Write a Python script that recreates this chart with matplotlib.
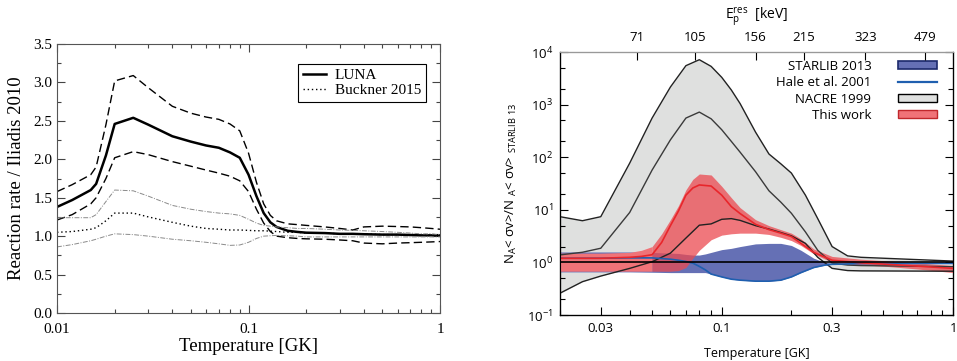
import matplotlib
matplotlib.use("Agg")
import matplotlib.pyplot as plt
from matplotlib.lines import Line2D
from matplotlib.patches import Patch
from matplotlib.ticker import FixedLocator, NullLocator

# ---- left panel: rate ratio to Iliadis 2010 ----
temp_left = [0.01, 0.012, 0.015, 0.016, 0.018, 0.02, 0.025, 0.03, 0.04, 0.05, 0.06,
             0.07, 0.08, 0.09, 0.1, 0.11, 0.12, 0.13, 0.14, 0.16, 0.18, 0.2, 0.25,
             0.3, 0.35, 0.4, 0.5, 0.6, 0.7, 0.8, 0.9, 1.0]
luna = [1.38, 1.47, 1.60, 1.68, 2.05, 2.46, 2.54, 2.45, 2.30, 2.23, 2.18,
        2.15, 2.09, 2.02, 1.80, 1.52, 1.30, 1.18, 1.12, 1.07, 1.055, 1.045, 1.04,
        1.03, 1.03, 1.025, 1.02, 1.02, 1.015, 1.01, 1.01, 1.01]
luna_hi = [1.58, 1.67, 1.80, 1.90, 2.45, 3.02, 3.09, 2.93, 2.69, 2.60, 2.55,
           2.52, 2.46, 2.37, 2.08, 1.70, 1.42, 1.27, 1.20, 1.16, 1.15, 1.14, 1.12,
           1.10, 1.08, 1.12, 1.13, 1.125, 1.12, 1.11, 1.10, 1.09]
luna_lo = [1.21, 1.28, 1.42, 1.50, 1.75, 2.02, 2.10, 2.06, 1.97, 1.91, 1.86,
           1.82, 1.78, 1.72, 1.58, 1.35, 1.17, 1.06, 1.00, 0.98, 0.97, 0.965, 0.96,
           0.95, 0.94, 0.91, 0.90, 0.91, 0.915, 0.92, 0.925, 0.93]
buckner = [1.05, 1.06, 1.09, 1.11, 1.20, 1.30, 1.30, 1.25, 1.18, 1.13, 1.10,
           1.09, 1.08, 1.08, 1.075, 1.07, 1.07, 1.065, 1.06, 1.05, 1.05, 1.04, 1.04,
           1.03, 1.03, 1.03, 1.02, 1.02, 1.02, 1.02, 1.02, 1.02]
buckner_hi = [1.24, 1.24, 1.24, 1.28, 1.45, 1.60, 1.59, 1.52, 1.40, 1.35, 1.32,
              1.30, 1.29, 1.27, 1.22, 1.17, 1.14, 1.13, 1.12, 1.11, 1.10, 1.10, 1.09,
              1.08, 1.075, 1.07, 1.06, 1.05, 1.04, 1.03, 1.03, 1.02]
buckner_lo = [0.86, 0.89, 0.94, 0.96, 1.00, 1.03, 1.02, 1.00, 0.96, 0.94, 0.92,
              0.90, 0.88, 0.885, 0.92, 0.97, 1.00, 1.005, 1.01, 1.005, 1.00, 0.99, 0.99,
              0.99, 0.99, 0.99, 0.99, 0.99, 0.99, 0.99, 0.99, 0.99]

# ---- right panel: ratio to STARLIB 2013 ----
temp_nacre = [0.02, 0.025, 0.03, 0.04, 0.05, 0.06, 0.07, 0.08, 0.09, 0.1, 0.11,
              0.12, 0.14, 0.16, 0.18, 0.2, 0.23, 0.26, 0.3, 0.35, 0.4, 1.0]
nacre_hi = [7.4, 6.2, 7.4, 77, 555, 2160, 5500, 7140, 5330, 3300, 1900,
            1050, 300, 115, 75, 50, 19, 6.8, 2.0, 1.33, 1.25, 1.06]
nacre_mid = [1.39, 1.56, 1.86, 8.9, 57, 214, 555, 721, 537, 333, 200,
             125, 53, 23, 14, 8.6, 3.8, 1.7, 0.97, 0.89, 0.87, 0.83]
nacre_lo = [0.26, 0.43, 0.55, 0.77, 1.03, 1.5, 2.9, 5.1, 5.4, 6.6, 6.8,
            6.3, 5.0, 4.3, 3.7, 3.2, 2.3, 1.25, 0.77, 0.70, 0.69, 0.68]

temp_starlib = [0.02, 0.03, 0.04, 0.05, 0.06, 0.065, 0.07, 0.075, 0.08, 0.085, 0.09,
                0.1, 0.11, 0.12, 0.14, 0.16, 0.18, 0.2, 0.22, 0.25, 0.28, 0.3, 0.4, 1.0]
starlib_hi = [1.58, 1.58, 1.58, 1.55, 1.5, 1.48, 1.42, 1.38, 1.38, 1.45, 1.55,
              1.75, 1.85, 2.0, 2.25, 2.3, 2.3, 2.1, 1.7, 1.2, 1.0, 0.97, 0.97, 0.97]
starlib_lo = [0.66, 0.66, 0.66, 0.65, 0.64, 0.64, 0.64, 0.64, 0.64, 0.64, 0.60,
              0.53, 0.48, 0.46, 0.44, 0.44, 0.46, 0.53, 0.64, 0.80, 0.89, 0.92, 0.95, 0.96]
hale = [1.2, 1.2, 1.22, 1.22, 1.15, 1.1, 1.04, 0.97, 0.84, 0.72, 0.60,
        0.53, 0.48, 0.46, 0.44, 0.44, 0.46, 0.53, 0.64, 0.80, 0.89, 0.92, 0.95, 0.96]

temp_work = [0.02, 0.03, 0.04, 0.045, 0.05, 0.055, 0.06, 0.065, 0.07, 0.075, 0.08,
             0.09, 0.1, 0.11, 0.12, 0.14, 0.16, 0.18, 0.2, 0.22, 0.25, 0.3, 0.4,
             0.5, 0.7, 1.0]
work_hi = [1.5, 1.5, 1.55, 1.7, 2.0, 3.5, 6.5, 12, 24, 38, 48,
           46, 28, 17, 11, 6.5, 5.0, 4.2, 3.6, 2.8, 1.8, 1.3, 1.15,
           1.08, 0.98, 0.87]
work_mid = [1.2, 1.2, 1.25, 1.3, 1.4, 2.4, 5.0, 9.5, 19, 26, 29.7,
            28.3, 19, 11.5, 8.5, 5.3, 4.2, 3.6, 3.1, 2.3, 1.55, 1.1, 0.98,
            0.93, 0.85, 0.77]
work_lo = [0.68, 0.68, 0.68, 0.68, 0.68, 0.68, 0.68, 0.70, 0.80, 1.2, 1.7,
           2.7, 3.3, 3.5, 3.6, 3.6, 3.4, 3.0, 2.6, 2.1, 1.45, 1.0, 0.9,
           0.85, 0.75, 0.64]

top_temps = [0.043, 0.077, 0.140, 0.227, 0.418, 0.754]
top_labels = ["71", "105", "156", "215", "323", "479"]

plt.rcParams["mathtext.fontset"] = "custom"
plt.rcParams["mathtext.rm"] = "Open Sans"
plt.rcParams["mathtext.it"] = "Open Sans:italic"

fig = plt.figure(figsize=(9.57, 3.61), dpi=100)
ax1 = fig.add_axes([0.0596, 0.133, 0.4002, 0.745])
ax2 = fig.add_axes([0.5852, 0.1274, 0.4107, 0.7285])

# ---------- left ----------
serif = "Liberation Serif"
ax1.plot(temp_left, luna, color="black", lw=1.8, label="LUNA")
ax1.plot(temp_left, luna_hi, color="black", lw=1.0, dashes=(6, 3))
ax1.plot(temp_left, luna_lo, color="black", lw=1.0, dashes=(6, 3))
ax1.plot(temp_left, buckner, color="black", lw=1.0, dashes=(1, 2), label="Buckner 2015")
ax1.plot(temp_left, buckner_hi, color="#8a8a8a", lw=0.7, dashes=(5, 1.5, 1, 1.5))
ax1.plot(temp_left, buckner_lo, color="#8a8a8a", lw=0.7, dashes=(5, 1.5, 1, 1.5))
ax1.set_xscale("log")
ax1.set_xlim(0.01, 1)
ax1.set_ylim(0, 3.5)
ax1.set_xticks([0.01, 0.1, 1])
ax1.set_xticklabels(["0.01", "0.1", "1"])
ax1.set_yticks([0, 0.5, 1.0, 1.5, 2.0, 2.5, 3.0, 3.5])
ax1.set_yticklabels(["0.0", "0.5", "1.0", "1.5", "2.0", "2.5", "3.0", "3.5"])
ax1.yaxis.set_minor_locator(FixedLocator([0.25, 0.75, 1.25, 1.75, 2.25, 2.75, 3.25]))
ax1.tick_params(which="both", direction="in", top=True, right=True, colors="#444",
                labelcolor="black", labelsize=11)
ax1.tick_params(which="major", length=6, width=0.8)
ax1.tick_params(which="minor", length=3, width=0.8)
ax1.tick_params(axis="x", pad=7)
for lab in ax1.get_xticklabels() + ax1.get_yticklabels():
    lab.set_family(serif)
for s in ax1.spines.values():
    s.set_color("#555")
    s.set_linewidth(0.8)
ax1.set_xlabel("Temperature [GK]", family=serif, fontsize=13.5, labelpad=2)
ax1.set_ylabel("Reaction rate / Iliadis 2010", family=serif, fontsize=13.5, labelpad=6)
leg1 = ax1.legend(loc="upper right", bbox_to_anchor=(0.963, 0.926), borderaxespad=0,
                  fancybox=False, edgecolor="black", framealpha=1, handlelength=1.5,
                  handletextpad=0.6, prop={"family": serif, "size": 11},
                  borderpad=0.3, labelspacing=0.1)
leg1.get_frame().set_linewidth(0.8)

# ---------- right ----------
sans = "Open Sans"
gray = "#dfe0df"
blue = "#6570b5"
ax2.fill_between(temp_nacre, nacre_lo, nacre_hi, color=gray, lw=0, zorder=1)
ax2.fill_between(temp_starlib, starlib_lo, starlib_hi, color=blue, lw=0, zorder=2)
left_part = [t <= 0.05 for t in temp_work]
right_part = [t >= 0.05 for t in temp_work]
ax2.fill_between(temp_work, work_lo, work_hi, where=left_part, color="#f07378", lw=0, zorder=3)
ax2.fill_between(temp_work, work_lo, work_hi, where=right_part, color="#ec4a50",
                 alpha=0.75, lw=0, zorder=3)
ax2.plot(temp_nacre, nacre_hi, color="#222", lw=1.0, zorder=4)
ax2.plot(temp_nacre, nacre_mid, color="#3a3a3a", lw=1.0, zorder=4)
ax2.plot(temp_nacre, nacre_lo, color="#222", lw=1.0, zorder=4)
ax2.plot(temp_starlib, hale, color="#1f5faf", lw=1.2, zorder=4)
ax2.plot(temp_work, work_mid, color="#e8262b", lw=1.2, zorder=5)
ax2.axhline(1.0, color="black", lw=1.2, zorder=6)

ax2.set_xscale("log")
ax2.set_yscale("log")
ax2.set_xlim(0.02, 1)
ax2.set_ylim(0.1, 1e4)
ax2.set_xticks([0.03, 0.1, 0.3, 1])
ax2.set_xticklabels(["0.03", "0.1", "0.3", "1"])
ax2.xaxis.set_minor_locator(FixedLocator([0.02, 0.04, 0.05, 0.06, 0.07, 0.08, 0.09,
                                          0.2, 0.4, 0.5, 0.6, 0.7, 0.8, 0.9]))
decades = [-1, 0, 1, 2, 3, 4]
ax2.set_yticks([10.0 ** d for d in decades])
ax2.set_yticklabels([r"10$^{%d}$" % d for d in decades])
ax2.yaxis.set_minor_locator(FixedLocator([m * 10.0 ** d for d in decades[:-1] for m in (2, 5)]))
ax2.tick_params(which="both", direction="in", right=True, labelsize=9.5, pad=5)
ax2.tick_params(which="major", length=6, width=0.8)
ax2.tick_params(which="minor", length=3.5, width=0.8)
for lab in ax2.get_xticklabels() + ax2.get_yticklabels():
    lab.set_family(sans)
ax2.spines["top"].set_color("#999")
for s in ax2.spines.values():
    s.set_linewidth(0.9)
ax2.set_xlabel("Temperature [GK]", family=sans, fontsize=9, labelpad=9)
ax2.set_ylabel(r"N$_{\rm A}$< σv>/N $_{\rm A}$< σv> $_{\rm STARLIB\ 13}$",
               family=sans, fontsize=9.5, labelpad=6)

ax_top = ax2.twiny()
ax_top.set_xscale("log")
ax_top.set_xlim(0.02, 1)
ax_top.set_xticks(top_temps)
ax_top.set_xticklabels(top_labels, family=sans)
ax_top.xaxis.set_minor_locator(NullLocator())
ax_top.tick_params(direction="in", length=6, width=0.8, labelsize=9.5, pad=6)
ax_top.spines["top"].set_color("#999")
ax_top.set_xlabel(r"E$_{\rm p}^{\rm res}$  [keV]", family=sans, fontsize=10, labelpad=8)

handles = [
    Patch(facecolor=blue, edgecolor="#1c2a6c", lw=1.2),
    Line2D([], [], color="#1f5faf", lw=1.6),
    Patch(facecolor=gray, edgecolor="black", lw=1.0),
    Patch(facecolor="#f07378", edgecolor="#c0282c", lw=1.0),
]
labels = ["STARLIB 2013", "Hale et al. 2001", "NACRE 1999", "This work"]
ax2.legend(handles, labels, loc="upper right", bbox_to_anchor=(0.96, 0.97),
           borderaxespad=0, borderpad=0, frameon=False, markerfirst=False,
           handlelength=3.0, handleheight=0.55, handletextpad=2.0, labelspacing=0.25,
           prop={"family": sans, "size": 9.5})

fig.savefig("out.png", dpi=100)
